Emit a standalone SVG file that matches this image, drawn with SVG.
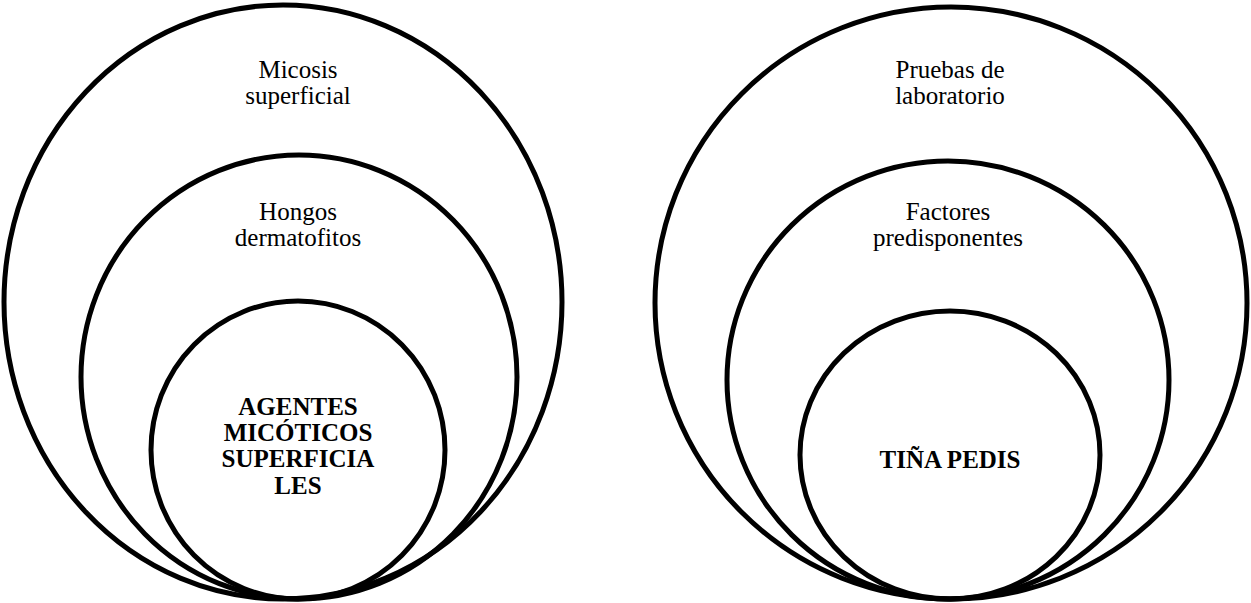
<svg xmlns="http://www.w3.org/2000/svg" width="1251" height="603" viewBox="0 0 1251 603">
<style>
.c{fill:none;stroke:#000;stroke-width:5}
.t{font-family:"Liberation Serif","Times New Roman",serif;font-size:25px;fill:#000;text-anchor:middle}
.b{font-weight:bold}
</style>
<rect width="1251" height="603" fill="#fff"/>
<g id="left-outer"><ellipse class="c" cx="283" cy="302" rx="279" ry="297"/><text class="t" x="298" y="78">Micosis</text><text class="t" x="298" y="104">superficial</text></g>
<g id="left-middle"><ellipse class="c" cx="299" cy="377" rx="218" ry="222"/><text class="t" x="298" y="220">Hongos</text><text class="t" x="298" y="246">dermatofitos</text></g>
<g id="left-inner"><ellipse class="c" cx="298" cy="450" rx="147" ry="149"/><text class="t b" x="298" y="415">AGENTES</text><text class="t b" x="298" y="441">MICÓTICOS</text><text class="t b" x="298" y="467">SUPERFICIA</text><text class="t b" x="298" y="494">LES</text></g>
<g id="right-outer"><ellipse class="c" cx="951" cy="303" rx="296" ry="296"/><text class="t" x="950" y="78">Pruebas de</text><text class="t" x="950" y="104">laboratorio</text></g>
<g id="right-middle"><ellipse class="c" cx="948" cy="380" rx="221" ry="219"/><text class="t" x="948" y="220">Factores</text><text class="t" x="948" y="246">predisponentes</text></g>
<g id="right-inner"><ellipse class="c" cx="950" cy="455" rx="150" ry="144"/><text class="t b" x="950" y="468">TIÑA PEDIS</text></g>
<g id="connectors"></g>
</svg>
